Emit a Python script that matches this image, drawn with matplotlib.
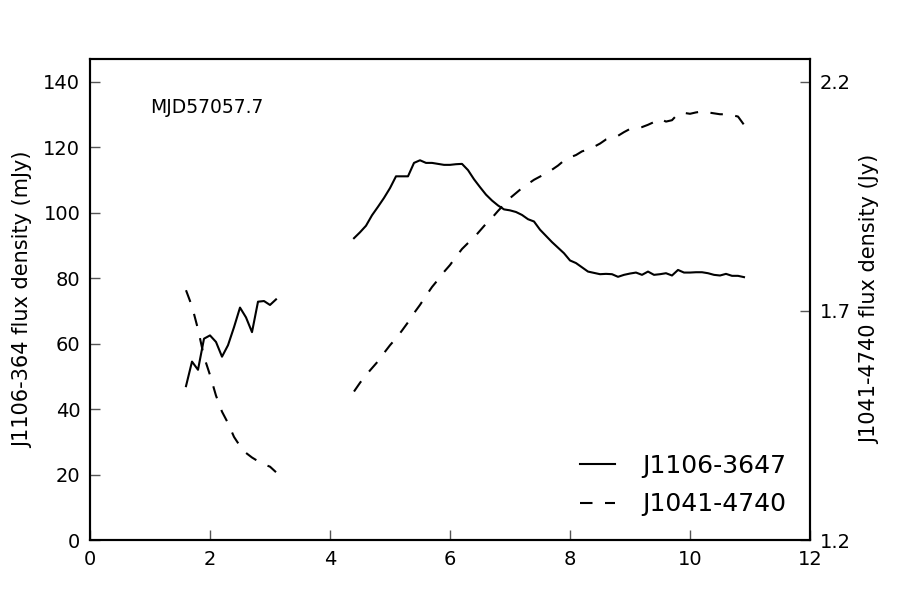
import numpy as np
import matplotlib
matplotlib.use("Agg")
import matplotlib.pyplot as plt

# Segment 1 (hours)
t1 = [1.6, 1.7, 1.8, 1.9, 2.0, 2.1, 2.2, 2.3, 2.4, 2.5, 2.6, 2.7, 2.8, 2.9, 3.0, 3.1]
j1106_a = [47.0, 54.5, 52.0, 61.5, 62.5, 60.5, 56.0, 59.5, 65.0, 71.0, 68.0, 63.5,
           72.8, 73.0, 71.8, 73.5]
j1041_a = [1.745, 1.71, 1.66, 1.60, 1.56, 1.515, 1.48, 1.455, 1.425, 1.405, 1.39,
           1.38, 1.372, 1.365, 1.36, 1.348]

# Segment 2 (hours)
t2 = [round(4.4 + 0.1 * i, 1) for i in range(66)]
j1106_b = [92.2, 94.0, 96.0, 99.2, 101.8, 104.5, 107.5, 111.1, 111.1, 111.1,
           115.2, 116.0, 115.2, 115.2, 114.9, 114.6, 114.6, 114.8, 114.9, 113.0,
           110.2, 107.8, 105.5, 103.7, 102.2, 101.0, 100.7, 100.2, 99.3, 98.0,
           97.3, 94.8, 92.9, 91.0, 89.3, 87.6, 85.4, 84.6, 83.3, 82.0,
           81.6, 81.2, 81.3, 81.2, 80.4, 81.0, 81.4, 81.7, 81.0, 82.0,
           81.0, 81.2, 81.5, 80.8, 82.5, 81.7, 81.7, 81.8, 81.8, 81.5,
           81.0, 80.8, 81.3, 80.7, 80.7, 80.3]
j1041_b = [1.524, 1.543, 1.560, 1.575, 1.590, 1.608, 1.625, 1.640, 1.657, 1.675,
           1.695, 1.713, 1.733, 1.752, 1.768, 1.785, 1.800, 1.818, 1.835, 1.848,
           1.860, 1.875, 1.890, 1.903, 1.918, 1.932, 1.946, 1.957, 1.968, 1.977,
           1.986, 1.993, 2.000, 2.008, 2.017, 2.028, 2.035, 2.040, 2.048, 2.052,
           2.058, 2.065, 2.074, 2.078, 2.082, 2.090, 2.097, 2.099, 2.101, 2.106,
           2.112, 2.119, 2.113, 2.116, 2.130, 2.132, 2.130, 2.133, 2.135, 2.133,
           2.131, 2.129, 2.129, 2.127, 2.124, 2.106]

x_ticks = [0, 2, 4, 6, 8, 10, 12]
left_ticks = [0, 20, 40, 60, 80, 100, 120, 140]
right_ticks = [1.2, 1.7, 2.2]

fig = plt.figure(figsize=(9, 6), dpi=100)
ax = fig.add_axes([0.1, 0.1, 0.8, 0.802])
ax2 = ax.twinx()

lw = 1.5
l1, = ax.plot(t1, j1106_a, color='black', lw=lw, label='J1106-3647')
ax.plot(t2, j1106_b, color='black', lw=lw)
l2, = ax2.plot(t1, j1041_a, color='black', lw=lw, ls=(0, (6, 6)), label='J1041-4740')
ax2.plot(t2, j1041_b, color='black', lw=lw, ls=(0, (6, 6)))

ax.set_xlim(0, 12)
ax.set_ylim(0, 147)
ax2.set_ylim(1.2, 2.25)
ax.set_xticks(x_ticks)
ax.set_yticks(left_ticks)
ax2.set_yticks(right_ticks)
ax2.set_yticklabels(['1.2', '1.7', '2.2'])

for a in (ax, ax2):
    a.tick_params(direction='in', length=7, width=1, labelsize=14, pad=7, color='#555555')
    for s in a.spines.values():
        s.set_linewidth(1.5)
ax.tick_params(top=False, right=False)
ax2.tick_params(left=False, right=True)

ax.set_ylabel('J1106-364 flux density (mJy)', fontsize=15)
ax2.set_ylabel('J1041-4740 flux density (Jy)', fontsize=15)
ax.yaxis.set_label_coords(-0.079, 0.5)
ax2.yaxis.set_label_coords(1.069, 0.5)

ax.text(1.0, 132, 'MJD57057.7', fontsize=13.5, va='center', ha='left')

ax.legend([l1, l2], ['J1106-3647', 'J1041-4740'], loc='lower right', frameon=False,
          fontsize=18, handlelength=1.4, handletextpad=1.1, borderaxespad=0.55,
          labelspacing=0.57)

fig.savefig('out.png', dpi=100)
